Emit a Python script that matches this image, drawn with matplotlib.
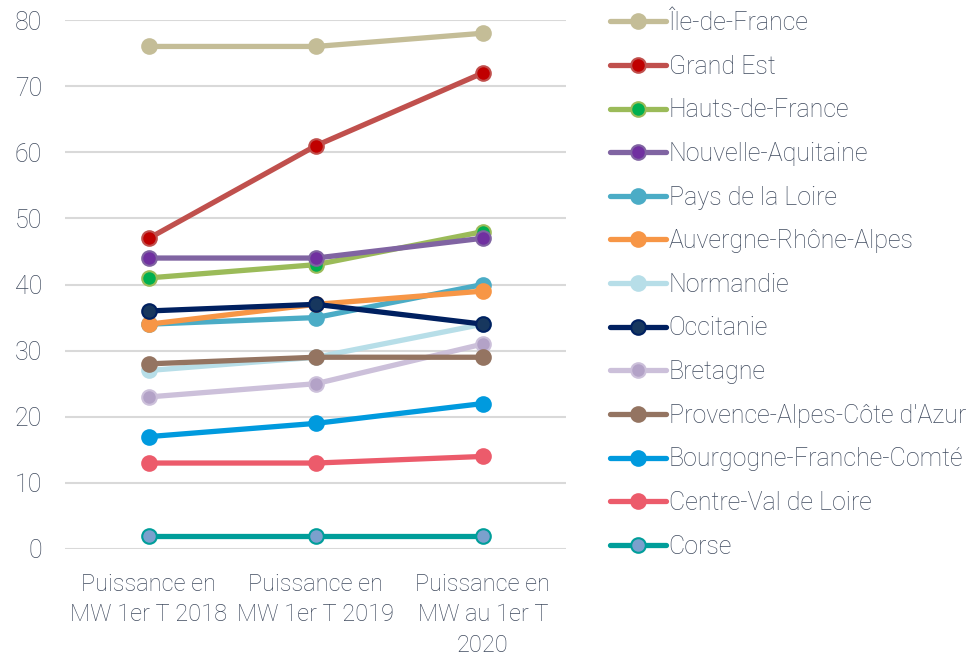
import matplotlib
matplotlib.use("Agg")
import matplotlib.pyplot as plt

# catégories et séries
categories = ["Puissance en\nMW 1er T 2018", "Puissance en\nMW 1er T 2019", "Puissance en\nMW au 1er T\n2020"]
regions = [
    "Île-de-France", "Grand Est", "Hauts-de-France", "Nouvelle-Aquitaine",
    "Pays de la Loire", "Auvergne-Rhône-Alpes", "Normandie", "Occitanie",
    "Bretagne", "Provence-Alpes-Côte d'Azur", "Bourgogne-Franche-Comté",
    "Centre-Val de Loire", "Corse",
]
ile_de_france = [76, 76, 78]
grand_est = [47, 61, 72]
hauts_de_france = [41, 43, 48]
nouvelle_aquitaine = [44, 44, 47]
pays_de_la_loire = [34, 35, 40]
auvergne_rhone_alpes = [34, 37, 39]
normandie = [27, 29, 34]
occitanie = [36, 37, 34]
bretagne = [23, 25, 31]
paca = [28, 29, 29]
bourgogne_fc = [17, 19, 22]
centre_val_de_loire = [13, 13, 14]
corse = [2, 2, 2]

series = [ile_de_france, grand_est, hauts_de_france, nouvelle_aquitaine,
          pays_de_la_loire, auvergne_rhone_alpes, normandie, occitanie,
          bretagne, paca, bourgogne_fc, centre_val_de_loire, corse]

# couleur de la ligne / couleur du marqueur
line_colors = ["#C4BD97", "#C0504D", "#9BBB59", "#8064A2", "#4BACC6", "#F79646",
               "#B7DEE8", "#002060", "#CCC0DA", "#947461", "#009ADE", "#EC5B6B", "#009E9A"]
marker_colors = ["#C4BD97", "#C00000", "#00B050", "#7030A0", "#4BACC6", "#F79646",
                 "#B7DEE8", "#17375E", "#B3A2C7", "#947461", "#009ADE", "#EC5B6B", "#7BA0CD"]

text_color = "#3F4A5E"
plt.rcParams["font.family"] = ["Roboto", "DejaVu Sans"]
plt.rcParams["font.weight"] = "light"

fig = plt.figure(figsize=(9.79, 6.57), dpi=100)
ax = fig.add_axes([65.5 / 979, 108 / 657, 501 / 979, 529 / 657])

x = range(len(categories))
for name, vals, lc, mc in zip(regions, series, line_colors, marker_colors):
    ax.plot(x, vals, color=lc, linewidth=3.8, marker="o", markersize=10.5,
            markerfacecolor=mc, markeredgecolor=lc, markeredgewidth=1.5,
            label=name, solid_capstyle="round")

ax.set_xlim(-0.5, 2.5)
ax.set_ylim(0, 80)
ax.set_yticks(range(0, 81, 10))
ax.set_xticks(list(x))
ax.set_xticklabels(categories, linespacing=1.42, fontsize=17)
ax.grid(axis="y", color="#D9D9D9", linewidth=1.5)
ax.set_axisbelow(True)
for s in ax.spines.values():
    s.set_visible(False)
ax.tick_params(axis="both", length=0, labelcolor=text_color)
ax.tick_params(axis="y", pad=17, labelsize=18)
ax.tick_params(axis="x", pad=17)

leg = fig.legend(loc="upper left", bbox_to_anchor=(610 / 979, 1 - 11 / 657),
                 frameon=False, fontsize=18, labelcolor=text_color,
                 handlelength=2.25, handletextpad=0.1, labelspacing=0.785,
                 borderpad=0, borderaxespad=0)

fig.savefig("out.png", dpi=100)
